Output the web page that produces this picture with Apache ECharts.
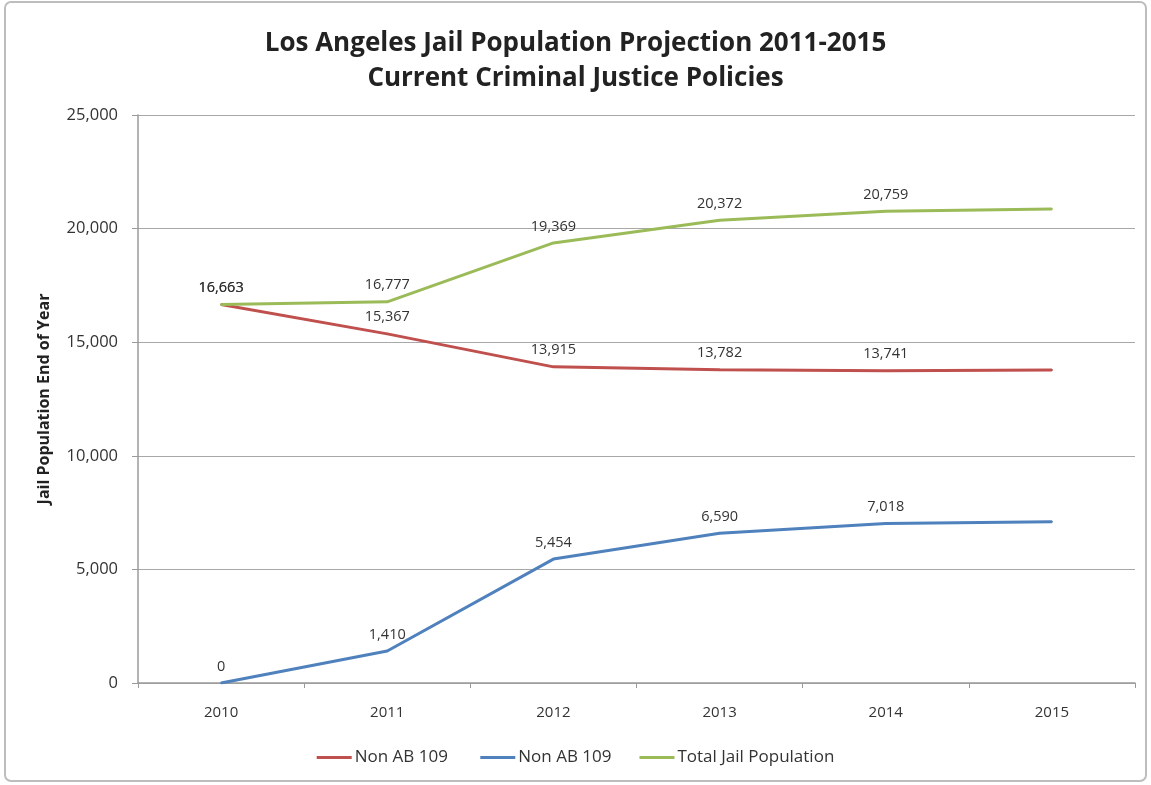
<!DOCTYPE html>
<html><head><meta charset="utf-8">
<script src="https://cdn.jsdelivr.net/npm/echarts@6/dist/echarts.min.js"></script>
<style>html,body{margin:0;padding:0;background:#fff}#c{width:1151px;height:785px}</style>
</head><body><div id="c"></div>
<script>
var years = ['2010','2011','2012','2013','2014','2015'];
var nonAB109Red = [16663, 15367, 13915, 13782, 13741, 13780];
var nonAB109Blue = [0, 1410, 5454, 6590, 7018, 7100];
var totalJail = [16663, 16777, 19369, 20372, 20759, 20860];
var labeledCount = 5;
var yTicks = [0, 5000, 10000, 15000, 20000, 25000];

var chart = echarts.init(document.getElementById('c'));
var FONT = '"Open Sans", sans-serif';
function fmt(v){return v.toLocaleString('en-US');}
function mk(name, data, color){
  return {
    name: name, type: 'line', data: data.map(function(v,i){
      return {value: v, label: {show: i < labeledCount}};
    }),
    symbol: 'circle', symbolSize: 2, showSymbol: true, smooth: false,
    lineStyle: {color: color, width: 3},
    itemStyle: {color: color},
    label: {show: true, position: 'top', distance: 8, color: '#333', fontSize: 14.5, fontFamily: FONT,
      formatter: function(p){return fmt(p.value);}},
    emphasis: {disabled: true}
  };
}
chart.setOption({
  animation: false,
  textStyle: {fontFamily: FONT},
  graphic: [{type: 'rect', shape: {x: 5, y: 2, width: 1141, height: 779, r: 6},
    style: {fill: 'none', stroke: '#bdbdbd', lineWidth: 2}, silent: true}],
  title: {text: 'Los Angeles Jail Population Projection 2011-2015\nCurrent Criminal Justice Policies',
    left: 'center', top: 21, textStyle: {fontSize: 26, fontWeight: 'bold', color: '#222', fontFamily: FONT, lineHeight: 35}},
  grid: {left: 138, right: 16, top: 115, bottom: 102},
  legend: {bottom: 14, left: 'center', itemWidth: 35, itemHeight: 3, itemGap: 28,
    icon: 'rect', textStyle: {fontSize: 17, color: '#333', fontFamily: FONT, padding: [0,0,0,-2]},
    data: [{name: 'Non AB 109 ', itemStyle:{color:'#C0504D'}}, {name: 'Non AB 109', itemStyle:{color:'#4F81BD'}}, {name: 'Total Jail Population', itemStyle:{color:'#9BBB59'}}]},
  xAxis: {type: 'category', data: years, boundaryGap: true,
    axisLine: {lineStyle: {color: '#9a9a9a', width: 1.5}},
    axisTick: {show: true, length: 5, lineStyle: {color: '#9a9a9a'}},
    axisLabel: {color: '#333', fontSize: 15, margin: 22, fontFamily: FONT}},
  yAxis: {type: 'value', min: yTicks[0], max: yTicks[yTicks.length-1], interval: 5000,
    name: 'Jail Population End of Year', nameLocation: 'middle', nameGap: 86, nameRotate: 90,
    nameTextStyle: {fontSize: 16, fontWeight: 'bold', color: '#222', fontFamily: FONT},
    axisLine: {show: true, lineStyle: {color: '#9a9a9a', width: 1.5}},
    axisTick: {show: true, length: 6, lineStyle: {color: '#9a9a9a'}},
    splitLine: {lineStyle: {color: '#a8a8a8', width: 1.2}},
    axisLabel: {color: '#333', fontSize: 16.5, margin: 20, fontFamily: FONT,
      formatter: function(v){return fmt(v);}}},
  series: [
    mk('Non AB 109 ', nonAB109Red, '#C0504D'),
    mk('Non AB 109', nonAB109Blue, '#4F81BD'),
    mk('Total Jail Population', totalJail, '#9BBB59')
  ]
});
</script></body></html>
